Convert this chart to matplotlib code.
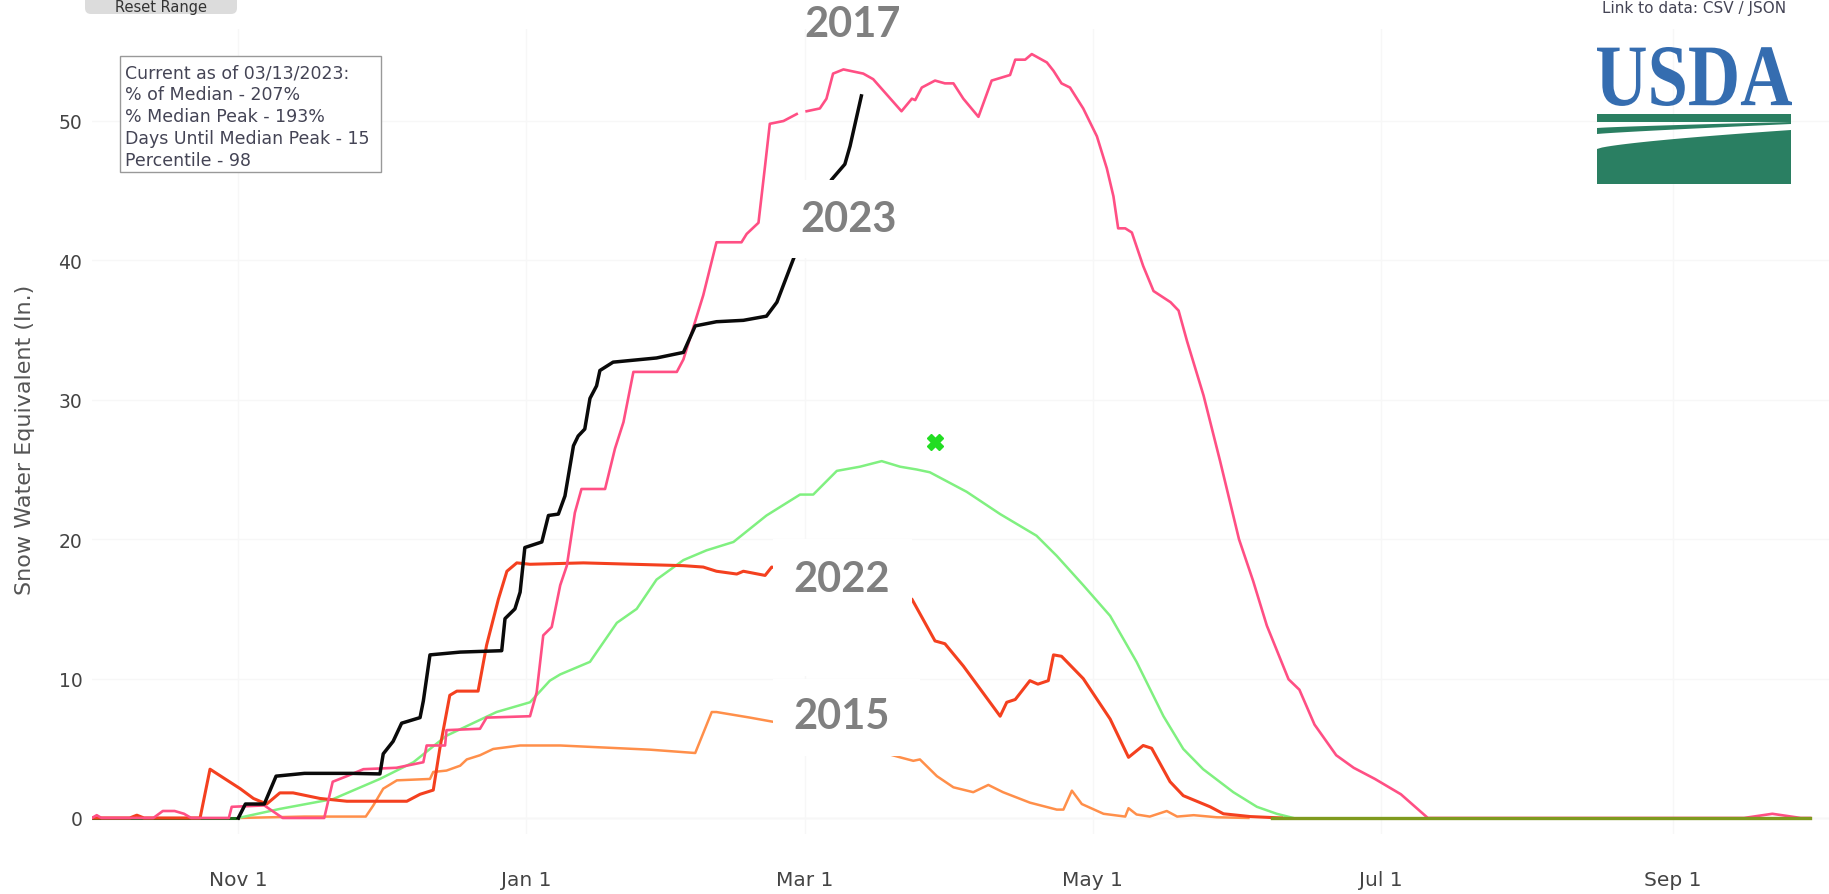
import matplotlib
matplotlib.use("Agg")
import matplotlib.pyplot as plt
import matplotlib.patches as mpatches
from matplotlib.textpath import TextPath
from matplotlib.font_manager import FontProperties
from matplotlib.transforms import Affine2D
import numpy as np

# figure size in pixels
W, H = 1829, 895

# x values are days since Oct 1 (water year), y values are SWE in inches
month_ticks = [31, 92, 151, 212, 273, 335]
month_labels = ["Nov 1", "Jan 1", "Mar 1", "May 1", "Jul 1", "Sep 1"]
swe_ticks = [0, 10, 20, 30, 40, 50]

# 2023 (current year, black)
wy2023_days = [31, 32.5, 36.5, 38, 39, 45, 55, 61, 61.7, 63.8, 65.6, 69.5, 70.2, 71.6, 78,
               86.8, 87.5, 89.6, 90.7, 91.7, 95.3, 96.7, 98.8, 100.2, 102, 103, 104.4, 105.5,
               106.9, 107.6, 110.4, 119.6, 125.3, 127.8, 132.3, 138, 142.9, 145.1, 148.6, 152,
               156.7, 159.5, 160.6, 163]
wy2023_swe = [0, 1.0, 1.0, 2.2, 3.0, 3.2, 3.2, 3.16, 4.6, 5.5, 6.8, 7.2, 8.4, 11.7, 11.9,
              12.0, 14.3, 15.0, 16.2, 19.4, 19.8, 21.7, 21.8, 23.1, 26.7, 27.4, 27.9, 30.1,
              31.0, 32.1, 32.7, 33.0, 33.4, 35.3, 35.6, 35.7, 36.0, 37.0, 40.1, 43.0,
              45.8, 46.9, 48.2, 51.8]

# 2017 (pink), nan = missing data
wy2017_days = [0, 1, 2, 13, 15, 17.5, 19.5, 21, 29, 29.6, 36.5, 40.4, 49.2, 51, 54, 57.5, 64.5,
               70.2, 70.9, 74.8, 75.1, 82.2, 83.6, 92.8, 94.2, 95.6, 97.4, 99.2, 100.6, 102.3,
               103.7, 108.7, 110.8, 112.6, 114.7, 123.9, 125.3, 129.5, 132.3, 137.6, 138.7,
               141.2, 142.6, 143.6, 146.5, 149.3, 150.3, 151.4, 154.2, 155.6, 157, 159.2, 163.4,
               165.5, 171.5, 173.7, 174.4, 175.8, 178.6, 180.7, 182.5, 184.6, 187.8, 190.6,
               194.5, 195.6, 197.7, 199.1, 202.3, 203.7, 205.4, 207.2, 210, 212.9, 215, 216.4,
               217.4, 218.9, 220.3, 222.7, 224.9, 228.5, 230.2, 232, 235.5, 239, 243, 246,
               248.9, 253.5, 255.8, 259, 263.6, 267.3, 271.8, 277.3, 282, 283, 350, 356, 362, 364]
wy2017_swe = [0, 0.2, 0, 0, 0.5, 0.5, 0.3, 0, 0, 0.8, 0.9, 0, 0, 2.6, 3.0, 3.5, 3.6,
              4.0, 5.2, 5.2, 6.3, 6.4, 7.2, 7.3, 9.0, 13.1, 13.7, 16.7, 18.1, 21.9,
              23.6, 23.6, 26.5, 28.4, 32.0, 32.0, 32.9, 37.5, 41.3, 41.3, 41.9,
              42.7, 46.8, 49.8, 50.0, 50.5, np.nan, 50.7, 50.9, 51.6, 53.4, 53.7, 53.4,
              53.0, 50.7, 51.6, 51.5, 52.4, 52.9, 52.7, 52.7, 51.6, 50.3, 52.9,
              53.3, 54.4, 54.4, 54.8, 54.2, 53.6, 52.7, 52.4, 50.9, 48.9, 46.6, 44.6,
              42.3, 42.3, 42.0, 39.6, 37.8, 37.0, 36.4, 34.2, 30.3, 25.6, 20.0, 17.0,
              13.8, 9.95, 9.2, 6.7, 4.5, 3.6, 2.8, 1.7, 0.3, 0, 0, 0.3, 0, 0]

# 2022 (red)
wy2022_days = [0, 8, 9.5, 11, 22.9, 25, 31.4, 34.2, 37, 39.8, 42.6, 48.3, 54, 66.7, 69.5, 72.3,
               73.7, 75.8, 77.3, 81.8, 83.6, 86.1, 87.9, 90, 92.8, 104.1, 125.3, 129.5, 132.3,
               136.6, 138, 142.6, 144, 173.7, 178.6, 180.7, 184.6, 192.4, 193.8, 195.6, 198.7,
               200.4, 202.6, 203.7, 205.4, 210, 215.7, 219.6, 222.7, 224.5, 228.4, 231.2, 236.9,
               239.7, 245.4, 252]
wy2022_swe = [0, 0, 0.2, 0, 0, 3.5, 2.1, 1.4, 1.0, 1.8, 1.8, 1.4, 1.2, 1.2, 1.7, 2.0,
              5.0, 8.8, 9.1, 9.1, 12.4, 15.7, 17.7, 18.3, 18.2, 18.3, 18.1, 18.0, 17.7,
              17.5, 17.7, 17.4, 18.0, 15.7, 12.7, 12.5, 10.9, 7.3, 8.3, 8.5, 9.85,
              9.6, 9.85, 11.7, 11.6, 10.0, 7.1, 4.35, 5.2, 5.0, 2.6, 1.6, 0.8,
              0.3, 0.1, 0]

# median (light green)
median_days = [31, 39.8, 51.1, 61, 68.1, 75.1, 85.7, 92.8, 97, 99.2, 105.5, 111.2, 115.4, 119.6,
               125.3, 130.2, 135.9, 142.9, 150, 152.8, 157.8, 162.7, 167.3, 171.2, 174.7, 177.5,
               185.3, 192.4, 200.1, 204.4, 210, 215.7, 221.3, 227, 231.2, 235.4, 241.8, 246.8,
               251, 254.5]
median_swe = [0, 0.65, 1.36, 2.8, 4.0, 5.9, 7.6, 8.3, 9.85, 10.3, 11.2, 14.0, 15.0, 17.1,
              18.5, 19.2, 19.8, 21.7, 23.2, 23.2, 24.9, 25.2, 25.6, 25.2, 25.0, 24.8,
              23.4, 21.8, 20.25, 18.8, 16.7, 14.5, 11.2, 7.3, 4.95, 3.5, 1.85, 0.8,
              0.3, 0]
median_peak_day = 178.6
median_peak_swe = 27.0

# 2015 (orange)
wy2015_days = [31, 45, 58, 59.6, 61.7, 64.6, 71.6, 72.3, 75.1, 78, 79.4, 82.2, 85, 90.7, 99.2,
               118.2, 127.8, 131.3, 132.3, 139.4, 144.3, 171.2, 174, 175.4, 179, 182.5, 186.7,
               189.9, 193, 198.7, 204.4, 205.8, 207.6, 209.7, 214.3, 218.9, 219.6, 221.3, 224.1,
               227.7, 229.9, 233.4, 238.3, 245]
wy2015_swe = [0, 0.1, 0.1, 0.9, 2.1, 2.7, 2.8, 3.3, 3.4, 3.75, 4.2, 4.5, 4.95, 5.2, 5.2,
              4.9, 4.66, 7.6, 7.6, 7.2, 6.9, 4.35, 4.1, 4.2, 3.0, 2.2, 1.85,
              2.37, 1.85, 1.1, 0.6, 0.6, 1.96, 1.0, 0.3, 0.1, 0.7, 0.25, 0.1,
              0.5, 0.1, 0.2, 0.05, 0]

# minimum series along zero
min_early_days = [0, 31]
min_early_swe = [0, 0]
min_late_days = [250, 364]
min_late_swe = [0, 0]

info_lines = ["Current as of 03/13/2023:", "% of Median - 207%", "% Median Peak - 193%",
              "Days Until Median Peak - 15", "Percentile - 98"]

# pixel helpers (y measured from the top of the image)
pix = Affine2D().scale(1, -1).translate(0, H)
def fx(px):
    return px / W
def fy(py):
    return 1 - py / H

fig = plt.figure(figsize=(W / 100, H / 100), dpi=100)
fig.patch.set_facecolor("white")
ax = fig.add_axes([fx(92), fy(835), fx(W) - fx(92), fy(30) - fy(835)])
ax.set_xlim(0, 368)
ax.set_ylim(-1.15, 56.6)
for s in ax.spines.values():
    s.set_visible(False)
ax.grid(True, color="#f7f7f7", lw=1)
ax.axhline(0, color="#ececec", lw=1, zorder=1)

ax.set_xticks(month_ticks)
ax.set_xticklabels(month_labels)
ax.set_yticks(swe_ticks)
ax.tick_params(axis="x", length=0, pad=26, labelsize=14.5, labelcolor="#444444")
ax.tick_params(axis="y", length=0, pad=7, labelsize=13.5, labelcolor="#444444")

ax.plot(min_early_days, min_early_swe, color="#1c6b1c", lw=2.2, zorder=2)
ax.plot(wy2015_days, wy2015_swe, color="#ff8f4a", lw=1.8, zorder=3)
ax.plot(median_days, median_swe, color="#80f080", lw=1.8, zorder=3)
ax.plot(wy2022_days, wy2022_swe, color="#f4401f", lw=2.2, zorder=4)
ax.plot(wy2017_days, wy2017_swe, color="#ff4f84", lw=1.9, zorder=4)
ax.plot(min_late_days, min_late_swe, color="#7f9a1f", lw=2.4, zorder=4)
ax.plot(wy2023_days, wy2023_swe, color="#0a0a0a", lw=2.5, zorder=5)
ax.plot([median_peak_day], [median_peak_swe], marker="X", ms=11, color="#22dd22",
        mec="#22dd22", zorder=5)

# white boxes behind the year labels (they hide the lines)
year_boxes = [(146.1, 40.2, 29.3, 5.6), (144.3, 10.2, 29.4, 9.8), (144.3, 4.45, 31.1, 5.52)]
for x0, y0, w, h in year_boxes:
    ax.add_patch(mpatches.Rectangle((x0, y0), w, h, facecolor="white", edgecolor="none", zorder=6))

year_font = dict(family="Lato", weight="bold", size=30, color="#808080",
                 ha="center", va="center", zorder=7)
fig.text(fx(853), fy(25), "2017", **year_font)
fig.text(fx(849), fy(220), "2023", **year_font)
fig.text(fx(842), fy(580), "2022", **year_font)
fig.text(fx(842), fy(717), "2015", **year_font)

fig.text(fx(25), fy(440), "Snow Water Equivalent (In.)", rotation=90, ha="center",
         va="center", fontsize=16, color="#555555")

# info box
fig.add_artist(mpatches.Rectangle((120, 57), 261, 116, transform=pix, facecolor="white",
                                  edgecolor="#999999", lw=1, zorder=8))
for i, line in enumerate(info_lines):
    fig.text(fx(125), fy(73 + 22 * i), line, ha="left", va="center", fontsize=12.5,
             color="#444455", zorder=9)

# reset range button and data link at the top edge
fig.add_artist(mpatches.FancyBboxPatch((85, -6), 152, 21, boxstyle="round,pad=0,rounding_size=6",
                                       transform=pix, facecolor="#dcdcdc", edgecolor="none"))
fig.text(fx(161), fy(12), "Reset Range", ha="center", va="baseline", fontsize=10.5, color="#333333")
fig.text(fx(1694), fy(13), "Link to data: CSV / JSON", ha="center", va="baseline",
         fontsize=11, color="#444455")

# USDA logo
tp = TextPath((0, 0), "USDA", prop=FontProperties(family="Liberation Serif", weight="bold"), size=100)
ext = tp.get_extents()
logo_tr = Affine2D().translate(-ext.x0, -ext.y0).scale(195 / ext.width, 59 / ext.height).translate(1597, H - 107)
fig.add_artist(mpatches.PathPatch(tp, transform=logo_tr, facecolor="#356db0", edgecolor="none"))
green = "#2a7f62"
fig.add_artist(mpatches.Rectangle((1597, 115), 194, 8, transform=pix, facecolor=green, edgecolor="none"))
t = np.linspace(0, 1, 40)
band_top = 129 - 6 * t ** 0.8
band_x = 1597 + 194 * t
band = np.column_stack([np.r_[band_x, band_x[::-1]], np.r_[band_top, (band_top + 6 - 4 * t)[::-1]]])
fig.add_artist(mpatches.Polygon(band, closed=True, transform=pix, facecolor=green, edgecolor="none"))
block_top = 150 - 19 * t ** 0.7
block = np.column_stack([np.r_[band_x, 1791, 1597], np.r_[block_top, 185, 185]])
fig.add_artist(mpatches.Polygon(block, closed=True, transform=pix, facecolor=green, edgecolor="none"))

fig.savefig("out.png", dpi=100)
